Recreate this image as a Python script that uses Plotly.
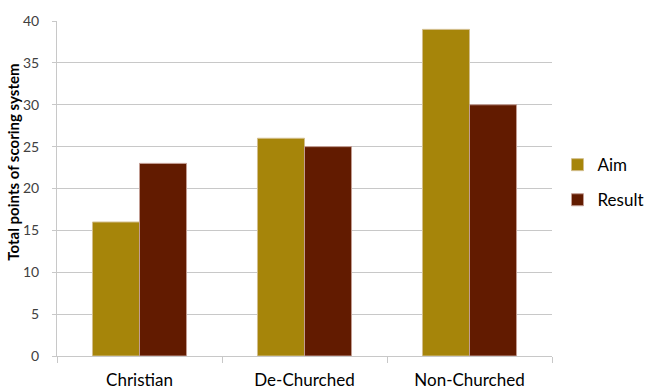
import plotly.graph_objects as go

# Scoring system totals per group
categories = ["Christian", "De-Churched", "Non-Churched"]
aim_values = [16, 26, 39]
result_values = [23, 25, 30]
y_tick_values = [0, 5, 10, 15, 20, 25, 30, 35, 40]

AIM_COLOR = "#A6850A"
RESULT_COLOR = "#621B00"
GRID_COLOR = "#C8C8C8"
FONT = "Lato, 'Open Sans', sans-serif"

fig = go.Figure()
fig.add_trace(go.Bar(
    x=categories, y=aim_values, name="Aim", legendgroup="aim",
    marker=dict(color=AIM_COLOR, line=dict(color="#D2BE8C", width=1)),
))
fig.add_trace(go.Bar(
    x=categories, y=result_values, name="Result", legendgroup="result",
    marker=dict(color=RESULT_COLOR, line=dict(color="#C29C92", width=1)),
))

# Rotated axis title placed as an annotation
fig.add_annotation(
    text="<b>Total points of scoring system</b>",
    xref="paper", yref="paper", x=-0.089, y=0.58,
    xanchor="center", yanchor="middle", textangle=-90, showarrow=False,
    font=dict(size=15, color="#000000", family=FONT),
)

fig.update_layout(
    width=646, height=391,
    margin=dict(l=57, r=94, t=21, b=35, autoexpand=False),
    paper_bgcolor="white", plot_bgcolor="white",
    barmode="group", bargap=0.43, bargroupgap=0,
    font=dict(family=FONT, color="#000000"),
    showlegend=True,
    legend=dict(
        xref="container", yref="container",
        x=0.863, y=0.533, xanchor="left", yanchor="middle",
        font=dict(size=17, color="#000000"),
        tracegroupgap=10, bgcolor="rgba(0,0,0,0)",
    ),
    xaxis=dict(
        showline=True, linecolor=GRID_COLOR, linewidth=1,
        ticks="outside", tickson="boundaries", ticklen=6, tickcolor=GRID_COLOR,
        tickfont=dict(size=17, color="#000000"), ticklabelstandoff=9,
        showgrid=False,
    ),
    yaxis=dict(
        range=[0, 40], tickvals=y_tick_values,
        showline=True, linecolor=GRID_COLOR, linewidth=1,
        ticks="outside", ticklen=4, tickcolor=GRID_COLOR,
        showgrid=True, gridcolor=GRID_COLOR, gridwidth=1,
        zeroline=False,
        tickfont=dict(size=14, color="#404040"), ticklabelstandoff=10,
    ),
)

fig.write_html("out.html")
